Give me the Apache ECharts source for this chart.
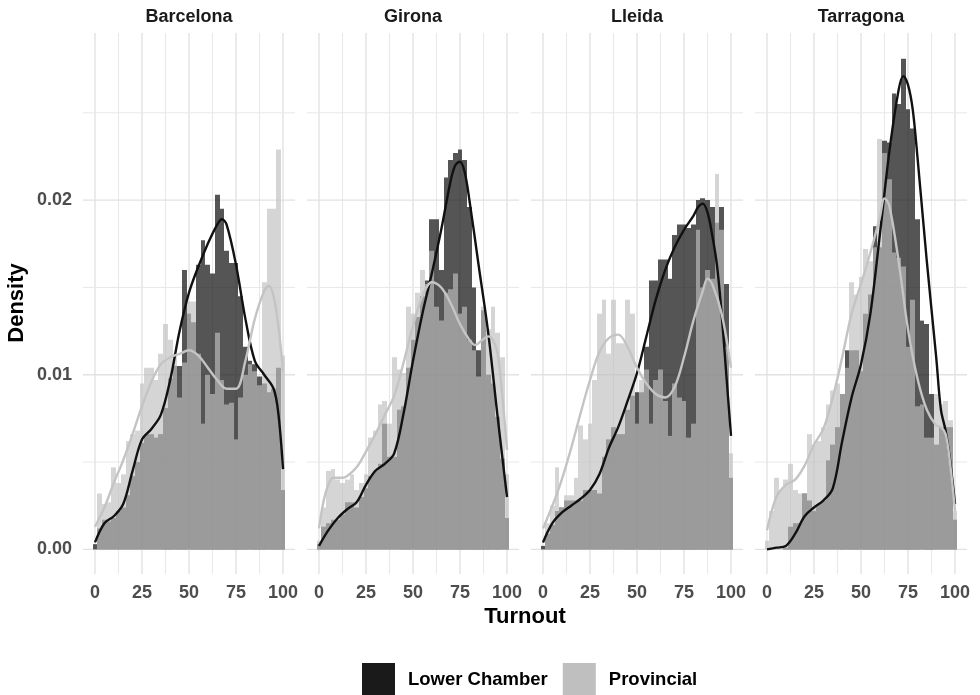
<!DOCTYPE html>
<html>
<head>
<meta charset="utf-8">
<script src="https://cdn.jsdelivr.net/npm/echarts@6/dist/echarts.min.js"></script>
<style>html,body{margin:0;padding:0;background:#fff}#chart{width:980px;height:695px}</style>
</head>
<body>
<div id="chart"></div>
<script>
// ---------------- DATA ----------------
const provinces = ['Barcelona', 'Girona', 'Lleida', 'Tarragona'];
const seriesNames = ['Lower Chamber', 'Provincial'];
const xTickLabels = [0, 25, 50, 75, 100];
const yTickLabels = [0, 0.01, 0.02];
const gridXValues = [0, 12.5, 25, 37.5, 50, 62.5, 75, 87.5, 100];
const gridYValues = [0, 0.005, 0.01, 0.015, 0.02, 0.025];
const binWidth = 2.5;
const binCenters = [0,2.5,5,7.5,10,12.5,15,17.5,20,22.5,25,27.5,30,32.5,35,37.5,40,42.5,45,47.5,50,52.5,55,57.5,60,62.5,65,67.5,70,72.5,75,77.5,80,82.5,85,87.5,90,92.5,95,97.5,100];

const barcelonaLower = [0.0003,0.0012,0.0017,0.0016,0.0018,0.0022,0.0024,0.0031,0.0042,0.0050,0.0061,0.0066,0.0066,0.0064,0.0066,0.0081,0.0098,0.0105,0.0105,0.0160,0.0135,0.0130,0.0163,0.0177,0.0163,0.0158,0.0203,0.0195,0.0171,0.0164,0.0164,0.0145,0.0116,0.0108,0.0106,0.0099,0.0095,0.0090,0.0092,0.0104,0.0034];
const barcelonaProv  = [0.0000,0.0032,0.0026,0.0027,0.0047,0.0038,0.0043,0.0062,0.0066,0.0068,0.0095,0.0104,0.0104,0.0097,0.0112,0.0129,0.0120,0.0112,0.0087,0.0107,0.0142,0.0142,0.0112,0.0072,0.0100,0.0089,0.0124,0.0097,0.0083,0.0084,0.0063,0.0087,0.0100,0.0106,0.0102,0.0094,0.0153,0.0195,0.0195,0.0229,0.0111];
const gironaLower    = [0.0003,0.0013,0.0015,0.0017,0.0017,0.0020,0.0027,0.0027,0.0024,0.0030,0.0035,0.0042,0.0045,0.0049,0.0072,0.0053,0.0053,0.0080,0.0082,0.0104,0.0120,0.0133,0.0145,0.0154,0.0189,0.0189,0.0160,0.0213,0.0223,0.0227,0.0229,0.0223,0.0196,0.0150,0.0114,0.0137,0.0100,0.0095,0.0076,0.0052,0.0018];
const gironaProv     = [0.0005,0.0024,0.0045,0.0046,0.0040,0.0038,0.0040,0.0043,0.0034,0.0038,0.0043,0.0064,0.0068,0.0083,0.0085,0.0072,0.0110,0.0103,0.0101,0.0139,0.0135,0.0147,0.0160,0.0152,0.0171,0.0139,0.0131,0.0147,0.0149,0.0158,0.0135,0.0139,0.0120,0.0114,0.0099,0.0139,0.0126,0.0139,0.0124,0.0110,0.0043];
const lleidaLower    = [0.0002,0.0009,0.0014,0.0022,0.0024,0.0028,0.0028,0.0028,0.0028,0.0034,0.0034,0.0034,0.0032,0.0053,0.0063,0.0070,0.0066,0.0066,0.0080,0.0088,0.0090,0.0090,0.0116,0.0154,0.0154,0.0166,0.0166,0.0155,0.0180,0.0186,0.0186,0.0184,0.0186,0.0200,0.0201,0.0200,0.0196,0.0187,0.0196,0.0152,0.0041];
const lleidaProv     = [0.0000,0.0015,0.0025,0.0047,0.0024,0.0031,0.0031,0.0041,0.0071,0.0063,0.0072,0.0097,0.0135,0.0143,0.0112,0.0143,0.0118,0.0118,0.0143,0.0135,0.0072,0.0097,0.0103,0.0072,0.0097,0.0103,0.0085,0.0065,0.0095,0.0087,0.0085,0.0064,0.0072,0.0183,0.0150,0.0160,0.0155,0.0215,0.0183,0.0116,0.0055];
const tarragonaLower = [0.0000,0.0000,0.0000,0.0000,0.0001,0.0013,0.0015,0.0015,0.0032,0.0028,0.0022,0.0026,0.0028,0.0051,0.0060,0.0070,0.0089,0.0114,0.0114,0.0114,0.0102,0.0135,0.0146,0.0185,0.0173,0.0234,0.0233,0.0261,0.0255,0.0281,0.0252,0.0241,0.0189,0.0131,0.0129,0.0089,0.0060,0.0070,0.0070,0.0070,0.0017];
const tarragonaProv  = [0.0005,0.0022,0.0041,0.0034,0.0040,0.0049,0.0034,0.0032,0.0032,0.0066,0.0060,0.0062,0.0070,0.0083,0.0091,0.0095,0.0089,0.0104,0.0153,0.0146,0.0156,0.0172,0.0165,0.0173,0.0235,0.0227,0.0212,0.0170,0.0167,0.0162,0.0116,0.0143,0.0082,0.0083,0.0064,0.0064,0.0089,0.0083,0.0085,0.0074,0.0022];

const barcelonaLowerDens = [[0,0.0004],[5,0.0015],[10,0.0019],[15,0.0026],[20,0.0045],[25,0.0063],[30,0.0069],[35,0.0077],[40,0.0097],[45,0.0125],[50,0.0147],[55,0.0162],[60,0.0175],[65,0.0186],[67.5,0.0189],[70,0.0186],[75,0.0163],[80,0.0132],[85,0.0108],[90,0.0100],[95,0.0092],[97.5,0.0078],[100,0.0046]];
const barcelonaProvDens  = [[0,0.0013],[5,0.0024],[10,0.0038],[15,0.0051],[20,0.0066],[25,0.0082],[30,0.0096],[35,0.0106],[40,0.0110],[45,0.0112],[50,0.0114],[55,0.0111],[60,0.0104],[65,0.0097],[70,0.0092],[75,0.0092],[80,0.0108],[85,0.0132],[90,0.0148],[92.5,0.0151],[95,0.0145],[97.5,0.0128],[100,0.0102]];
const gironaLowerDens    = [[0,0.0002],[5,0.0011],[10,0.0018],[15,0.0023],[20,0.0027],[25,0.0037],[30,0.0045],[35,0.0049],[40,0.0055],[45,0.0078],[50,0.0108],[55,0.0135],[60,0.0158],[65,0.0183],[70,0.0211],[72.5,0.0220],[75,0.0222],[77.5,0.0216],[80,0.0200],[85,0.0162],[90,0.0124],[95,0.0076],[100,0.0030]];
const gironaProvDens     = [[0,0.0012],[2.5,0.0028],[5,0.0037],[7.5,0.0041],[10,0.0041],[12.5,0.0041],[15,0.0042],[20,0.0047],[25,0.0056],[30,0.0066],[35,0.0077],[40,0.0088],[45,0.0107],[50,0.0128],[55,0.0145],[60,0.0153],[65,0.0150],[70,0.0141],[75,0.0129],[80,0.0120],[83,0.0117],[87,0.0120],[90,0.0122],[92.5,0.0120],[95,0.0112],[97.5,0.0088],[100,0.0057]];
const lleidaLowerDens    = [[0,0.0004],[5,0.0015],[10,0.0021],[15,0.0025],[20,0.0029],[25,0.0034],[30,0.0043],[35,0.0058],[40,0.0070],[45,0.0085],[50,0.0101],[55,0.0122],[60,0.0143],[65,0.0160],[70,0.0173],[75,0.0183],[80,0.0191],[82.5,0.0196],[85,0.0198],[87.5,0.0193],[90,0.0180],[92.5,0.0163],[95,0.0135],[97.5,0.0100],[100,0.0065]];
const lleidaProvDens     = [[0,0.0012],[5,0.0025],[10,0.0040],[15,0.0058],[20,0.0078],[25,0.0097],[30,0.0113],[35,0.0121],[40,0.0123],[45,0.0116],[50,0.0104],[55,0.0095],[60,0.0089],[65,0.0087],[70,0.0093],[75,0.0110],[80,0.0131],[85,0.0148],[87.5,0.0155],[90,0.0152],[95,0.0135],[100,0.0104]];
const tarragonaLowerDens = [[0,0.0000],[5,0.0001],[10,0.0002],[15,0.0009],[20,0.0019],[25,0.0024],[30,0.0028],[35,0.0035],[40,0.0062],[45,0.0087],[50,0.0106],[55,0.0135],[60,0.0180],[65,0.0227],[70,0.0263],[72.5,0.0271],[75,0.0266],[77.5,0.0252],[80,0.0225],[85,0.0165],[90,0.0110],[92.5,0.0080],[95,0.0068],[97.5,0.0050],[100,0.0026]];
const tarragonaProvDens  = [[0,0.0011],[5,0.0030],[10,0.0037],[15,0.0040],[20,0.0048],[25,0.0060],[30,0.0069],[35,0.0087],[40,0.0110],[45,0.0135],[50,0.0152],[55,0.0170],[60,0.0190],[62.5,0.0201],[65,0.0197],[70,0.0165],[75,0.0126],[80,0.0098],[85,0.0080],[90,0.0071],[92.5,0.0070],[95,0.0066],[97.5,0.0048],[100,0.0022]];

// ---------------- BUILD ----------------
const panels = [
  {lower: barcelonaLower, prov: barcelonaProv, lowerDens: barcelonaLowerDens, provDens: barcelonaProvDens},
  {lower: gironaLower, prov: gironaProv, lowerDens: gironaLowerDens, provDens: gironaProvDens},
  {lower: lleidaLower, prov: lleidaProv, lowerDens: lleidaLowerDens, provDens: lleidaProvDens},
  {lower: tarragonaLower, prov: tarragonaProv, lowerDens: tarragonaLowerDens, provDens: tarragonaProvDens}
];

const X_MIN = -6.375, X_MAX = 106.375;
const Y_MIN = -0.001408, Y_MAX = 0.029568;
const GRID_LEFTS = [83, 307, 531, 755];
const GRID_TOP = 33, GRID_W = 212, GRID_H = 541;
const FONT = '"Liberation Sans", Arial, Helvetica, sans-serif';
const LOWER_FILL = 'rgba(26,26,26,0.74)';
const PROV_FILL = 'rgba(191,191,191,0.66)';

const grids = [], xAxes = [], yAxes = [], series = [];

function barRender(fill) {
  return function (params, api) {
    const c = api.value(0), v = api.value(1);
    if (!(v > 0)) return null;
    const p0 = api.coord([c - binWidth / 2, 0]);
    const p1 = api.coord([c + binWidth / 2, v]);
    const x0 = Math.round(p0[0]), x1 = Math.round(p1[0]);
    const yb = p0[1], yt = p1[1];
    return {type: 'rect', shape: {x: x0, y: yt, width: x1 - x0, height: yb - yt}, style: {fill: fill}};
  };
}

panels.forEach((p, i) => {
  grids.push({left: GRID_LEFTS[i], top: GRID_TOP, width: GRID_W, height: GRID_H, containLabel: false});
  xAxes.push({
    type: 'value', gridIndex: i, min: X_MIN, max: X_MAX,
    axisLine: {show: false}, axisTick: {show: false}, splitLine: {show: false},
    axisLabel: {
      customValues: xTickLabels, margin: 10,
      fontFamily: FONT, fontSize: 18, fontWeight: 'bold', color: '#4d4d4d',
      formatter: v => String(Math.round(v))
    }
  });
  yAxes.push({
    type: 'value', gridIndex: i, min: Y_MIN, max: Y_MAX,
    axisLine: {show: false}, axisTick: {show: false}, splitLine: {show: false},
    axisLabel: {
      show: i === 0, customValues: yTickLabels, margin: 11,
      fontFamily: FONT, fontSize: 18, fontWeight: 'bold', color: '#4d4d4d',
      formatter: v => v.toFixed(2)
    }
  });
  series.push({
    type: 'custom', name: 'vgrid' + i, xAxisIndex: i, yAxisIndex: i, z: 1, silent: true,
    data: gridXValues.map(v => [v, 0]),
    renderItem: (params, api) => {
      const v = api.value(0);
      const a = api.coord([v, Y_MIN]), b = api.coord([v, Y_MAX]);
      const major = v % 25 === 0;
      return {type: 'line', shape: {x1: a[0], y1: a[1], x2: b[0], y2: b[1]},
        style: {stroke: major ? '#e2e2e2' : '#e8e8e8', lineWidth: major ? 1.4 : 1.0}};
    }
  });
  series.push({
    type: 'custom', name: 'hgrid' + i, xAxisIndex: i, yAxisIndex: i, z: 1, silent: true,
    data: gridYValues.map(v => [0, v]),
    renderItem: (params, api) => {
      const v = api.value(1);
      const a = api.coord([X_MIN, v]), b = api.coord([X_MAX, v]);
      const major = Math.abs(v / 0.01 - Math.round(v / 0.01)) < 1e-6;
      return {type: 'line', shape: {x1: a[0], y1: a[1], x2: b[0], y2: b[1]},
        style: {stroke: major ? '#e2e2e2' : '#e8e8e8', lineWidth: major ? 1.4 : 1.0}};
    }
  });
  series.push({
    type: 'custom', name: seriesNames[0], xAxisIndex: i, yAxisIndex: i, z: 2,
    itemStyle: {color: LOWER_FILL},
    data: binCenters.map((c, k) => [c, p.lower[k]]),
    renderItem: barRender(LOWER_FILL)
  });
  series.push({
    type: 'custom', name: seriesNames[1], xAxisIndex: i, yAxisIndex: i, z: 2,
    itemStyle: {color: PROV_FILL},
    data: binCenters.map((c, k) => [c, p.prov[k]]),
    renderItem: barRender(PROV_FILL)
  });
  series.push({
    type: 'line', name: 'Lower Chamber density', xAxisIndex: i, yAxisIndex: i, z: 3,
    data: p.lowerDens, smooth: 0.35, symbol: 'none', silent: true,
    lineStyle: {color: '#111111', width: 2.4}
  });
  series.push({
    type: 'line', name: 'Provincial density', xAxisIndex: i, yAxisIndex: i, z: 3,
    data: p.provDens, smooth: 0.35, symbol: 'none', silent: true,
    lineStyle: {color: '#c4c4c4', width: 2.4}
  });
});

const graphics = provinces.map((name, i) => ({
  type: 'text', x: GRID_LEFTS[i] + GRID_W / 2, y: 17,
  style: {text: name, fontFamily: FONT, fontSize: 18, fontWeight: 'bold', fill: '#1a1a1a', textAlign: 'center', textVerticalAlign: 'middle'}
}));
graphics.push({
  type: 'text', x: 525, y: 617,
  style: {text: 'Turnout', fontFamily: FONT, fontSize: 22, fontWeight: 'bold', fill: '#000', textAlign: 'center', textVerticalAlign: 'middle'}
});
graphics.push({
  type: 'text', x: 17, y: 303, rotation: Math.PI / 2,
  style: {text: 'Density', fontFamily: FONT, fontSize: 22, fontWeight: 'bold', fill: '#000', textAlign: 'center', textVerticalAlign: 'middle'}
});

const chart = echarts.init(document.getElementById('chart'), null, {renderer: 'canvas'});
chart.setOption({
  animation: false,
  backgroundColor: '#ffffff',
  grid: grids,
  xAxis: xAxes,
  yAxis: yAxes,
  legend: {
    left: 362, top: 663, padding: 0, itemWidth: 33, itemHeight: 34, itemGap: 15,
    selectedMode: false,
    textStyle: {fontFamily: FONT, fontSize: 18.5, fontWeight: 'bold', color: '#000', padding: [0, 0, 0, 8]},
    data: [
      {name: seriesNames[0], icon: 'rect', itemStyle: {color: '#1a1a1a', opacity: 1}},
      {name: seriesNames[1], icon: 'rect', itemStyle: {color: '#bfbfbf', opacity: 1}}
    ]
  },
  graphic: graphics,
  series: series
});
</script>
</body>
</html>
